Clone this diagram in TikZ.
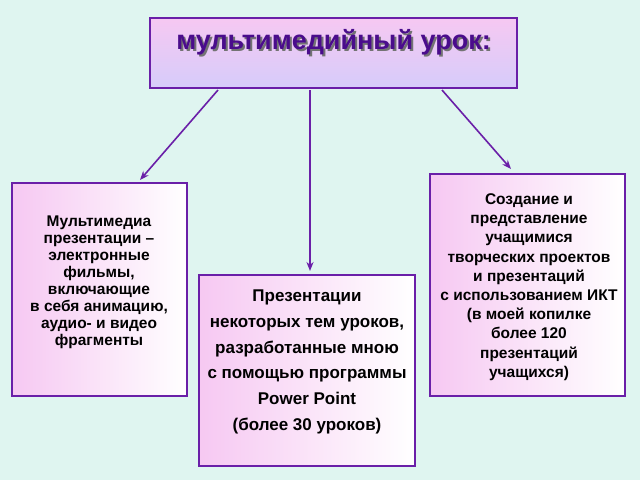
\documentclass[tikz,border=0pt]{standalone}
\usepackage{fontspec}
\setmainfont{Liberation Sans}
\usetikzlibrary{arrows.meta,shadings}
\definecolor{bg}{HTML}{DFF5F0}
\definecolor{brd}{HTML}{6A1FA8}
\definecolor{pinkc}{HTML}{F6C8F2}
\definecolor{lav}{HTML}{D6CCFA}
\definecolor{ttl}{HTML}{4A0C8C}
\tikzset{
  box/.style={draw=brd,line width=1.5pt,left color=pinkc,right color=white},
  conn/.style={draw=brd,line width=1.6pt,-{Stealth[length=9pt,width=7pt]}},
  txt/.style={align=center}
}
\begin{document}
\begin{tikzpicture}[x=1pt,y=-1pt]
\useasboundingbox (0,0) rectangle (640,480);
\fill[bg] (0,0) rectangle (640,480);
\draw[draw=brd,line width=1.5pt,top color=pinkc,bottom color=lav] (150,18) rectangle (517,88);
\node[font=\bfseries\fontsize{27}{30}\selectfont,text=black!55] at (335.5,44.5) {мультимедийный урок:};
\node (t) [font=\bfseries\fontsize{27}{30}\selectfont,text=ttl] at (333.5,42.5) {мультимедийный урок:};
\coordinate (tl) at (218,90);
\coordinate (tm) at (310,90);
\coordinate (tr) at (442,90);
\draw[box] (12,183) rectangle (187,396);
\node (l) [txt,font=\bfseries\fontsize{15.5}{17}\selectfont] at (99,282) {Мультимедиа\\презентации –\\электронные\\фильмы,\\включающие\\в себя анимацию,\\аудио- и видео\\фрагменты};
\draw[box] (199,275) rectangle (415,466);
\node (m) [txt,font=\bfseries\fontsize{17}{25.7}\selectfont] at (307,362) {Презентации\\ некоторых тем уроков,\\разработанные мною\\с помощью программы\\Power Point\\(более 30 уроков)};
\draw[box] (430,174) rectangle (625,396);
\node (r) [txt,font=\bfseries\fontsize{15.5}{19.2}\selectfont] at (529,287) {Создание и\\представление\\учащимися\\творческих проектов\\и презентаций\\с использованием ИКТ\\(в моей копилке\\более 120\\презентаций\\учащихся)};
\coordinate (al) at (140,180);
\coordinate (am) at (310,271);
\coordinate (ar) at (511,169);
\draw[conn] (tl) -- (al);
\draw[conn] (tm) -- (am);
\draw[conn] (tr) -- (ar);
\end{tikzpicture}
\end{document}
